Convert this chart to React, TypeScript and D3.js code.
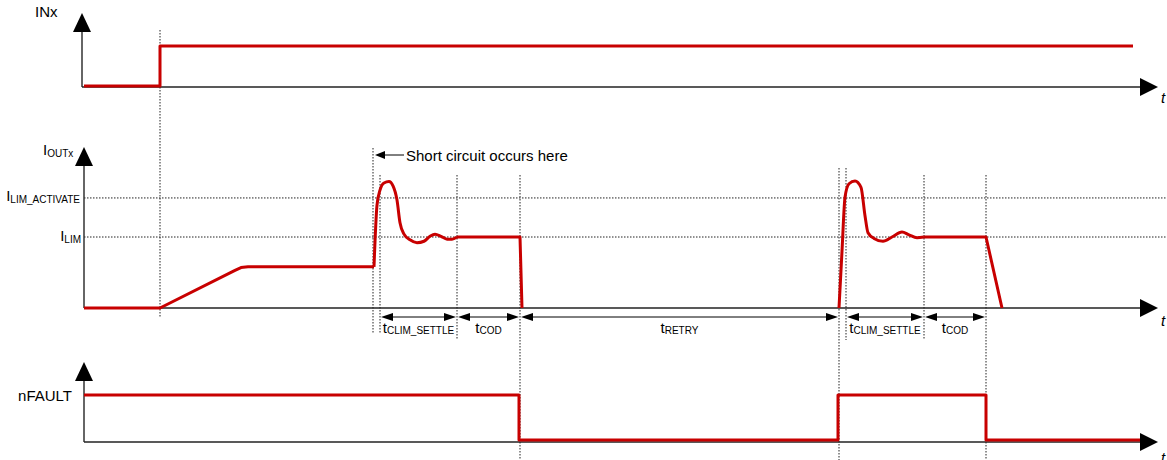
import React from "react";
import * as d3 from "d3";

// ---------- data (time in arbitrary units, levels normalised) ----------
const inxTime = [0, 76, 76, 1049];
const inxLevel = [0, 0, 1, 1];

// output current, I_LIM = 1
const ioutPreTime = [0, 76, 151, 157, 164, 290];
const ioutPreValue = [0, 0, 0.53, 0.57, 0.58, 0.58];
const pulse1Time = [290, 293, 296, 300, 305, 309, 313, 316, 320, 326, 333, 340, 346, 351, 357, 363, 368, 373];
const pulse1Value = [0.58, 1.45, 1.66, 1.76, 1.78, 1.72, 1.52, 1.2, 1.04, 0.96, 0.92, 0.94, 1.01, 1.04, 1.01, 0.97, 0.97, 1.0];
const post1Time = [373, 436, 438];
const post1Value = [1.0, 1.0, 0.0];
const pulse2Time = [755, 758, 761, 765, 771, 777, 781, 784, 790, 799, 808, 818, 825, 833, 840];
const pulse2Value = [0.0, 0.8, 1.56, 1.75, 1.79, 1.7, 1.3, 1.06, 0.98, 0.94, 1.0, 1.07, 1.03, 0.99, 1.0];
const post2Time = [840, 902, 918];
const post2Value = [1.0, 1.0, 0.0];

const ilimLevel = 1.0;
const ilimActivateLevel = 1.55;

const nfaultTime = [0, 435, 435, 754, 754, 902, 902, 1056];
const nfaultLevel = [1, 1, 0, 0, 1, 1, 0, 0];

const markerTimes = [76, 289, 296, 373, 436, 755, 762, 840, 902];
const intervalStarts = [296, 373, 436, 762, 840];
const intervalEnds = [373, 436, 755, 840, 902];
const intervalLabels = ["CLIM_SETTLE", "COD", "RETRY", "CLIM_SETTLE", "COD"];

// ---------- layout ----------
const W = 1167;
const H = 460;
const RED = "#c80000";
const FONT = "Arial, 'Liberation Sans', sans-serif";
const FS = 15;
const SUB = 10;

const x = d3.scaleLinear().domain([0, 1056]).range([84, 1140]);
const yIn = d3.scaleLinear().domain([0, 1]).range([86, 46]);
const yOut = d3.scaleLinear().domain([0, 1]).range([308, 237]);
const yF = d3.scaleLinear().domain([0, 1]).range([440, 395]);

const markerSpans: [number, number][] = [
  [30, 318], [148, 333], [175, 333], [175, 340], [175, 460],
  [168, 460], [168, 340], [175, 340], [175, 460],
];

function linePath(t: number[], v: number[], ys: d3.ScaleLinear<number, number>, curve: d3.CurveFactory = d3.curveLinear) {
  const pts = t.map((tt, i) => [tt, v[i]] as [number, number]);
  return d3.line<[number, number]>().x((d) => x(d[0])).y((d) => ys(d[1])).curve(curve)(pts) || "";
}

function YAxis({ ax, top, bottom }: { ax: number; top: number; bottom: number }) {
  return (
    <g>
      <line x1={ax} x2={ax} y1={top + 18} y2={bottom} stroke="#333" strokeWidth={1.5} />
      <path d={`M${ax},${top} L${ax - 9},${top + 19} L${ax + 9},${top + 19} Z`} fill="#000" />
    </g>
  );
}

function XAxis({ ax, y }: { ax: number; y: number }) {
  const end = x.range()[1];
  return (
    <g>
      <line x1={ax} x2={end + 1} y1={y} y2={y} stroke="#222" strokeWidth={1.5} />
      <path d={`M${end + 18},${y} L${end},${y - 9} L${end},${y + 9} Z`} fill="#000" />
    </g>
  );
}

export default function App() {
  const redStyle = { fill: "none", stroke: RED, strokeWidth: 3, strokeLinejoin: "round" as const, strokeLinecap: "butt" as const };
  const arrowY = 317;
  return (
    <svg width={W} height={H} style={{ position: "absolute", left: 0, top: 0, background: "#fff" }} fontFamily={FONT}>
      {/* dotted level lines */}
      <line x1={84} x2={W} y1={yOut(ilimActivateLevel)} y2={yOut(ilimActivateLevel)} stroke="#222" strokeWidth={1} strokeDasharray="1.5 1.5" />
      <line x1={84} x2={W} y1={yOut(ilimLevel)} y2={yOut(ilimLevel)} stroke="#222" strokeWidth={1} strokeDasharray="1.5 1.5" />

      {/* marker lines */}
      {markerTimes.map((t, i) => (
        <line key={i} x1={x(t)} x2={x(t)} y1={markerSpans[i][0]} y2={markerSpans[i][1]} stroke="#222" strokeWidth={1} strokeDasharray="1.5 1.5" />
      ))}

      {/* axes */}
      <YAxis ax={82} top={13} bottom={87} />
      <XAxis ax={82} y={87} />
      <YAxis ax={84} top={147} bottom={308} />
      <XAxis ax={84} y={308} />
      <YAxis ax={84} top={362} bottom={442} />
      <XAxis ax={84} y={442} />

      {/* axis labels */}
      <text x={35} y={17} fontSize={FS}>INx</text>
      <text x={43} y={155} fontSize={FS}>I<tspan fontSize={SUB} dy={2}>OUTx</tspan></text>
      <text x={80} y={201} fontSize={FS} textAnchor="end">I<tspan fontSize={SUB} dy={2}>LIM_ACTIVATE</tspan></text>
      <text x={81} y={241} fontSize={FS} textAnchor="end">I<tspan fontSize={SUB} dy={2}>LIM</tspan></text>
      <text x={72} y={401} fontSize={FS} textAnchor="end">nFAULT</text>
      <text x={1161} y={103} fontSize={FS} fontStyle="italic">t</text>
      <text x={1161} y={326} fontSize={FS} fontStyle="italic">t</text>
      <text x={1161} y={463} fontSize={FS} fontStyle="italic">t</text>

      {/* signals */}
      <path d={linePath(inxTime, inxLevel, yIn)} {...redStyle} />
      <path d={linePath(ioutPreTime, ioutPreValue, yOut)} {...redStyle} />
      <path d={linePath(pulse1Time, pulse1Value, yOut, d3.curveMonotoneX)} {...redStyle} />
      <path d={linePath(post1Time, post1Value, yOut)} {...redStyle} />
      <path d={linePath(pulse2Time, pulse2Value, yOut, d3.curveMonotoneX)} {...redStyle} />
      <path d={linePath(post2Time, post2Value, yOut)} {...redStyle} />
      <path d={linePath(nfaultTime, nfaultLevel, yF)} {...redStyle} />

      {/* short circuit annotation */}
      <line x1={x(markerTimes[1]) + 10} x2={404} y1={155} y2={155} stroke="#000" strokeWidth={1} />
      <path d={`M${x(markerTimes[1]) + 2},155 L${x(markerTimes[1]) + 12},151 L${x(markerTimes[1]) + 12},159 Z`} fill="#000" />
      <text x={406} y={161} fontSize={FS}>Short circuit occurs here</text>

      {/* interval arrows */}
      {intervalStarts.map((s, i) => {
        const a = x(s) + 1;
        const b = x(intervalEnds[i]) - 1;
        const mid = (a + b) / 2;
        return (
          <g key={i}>
            <line x1={a + 6} x2={b - 6} y1={arrowY} y2={arrowY} stroke="#000" strokeWidth={1} />
            <path d={`M${a},${arrowY} L${a + 12},${arrowY - 4} L${a + 12},${arrowY + 4} Z`} fill="#000" />
            <path d={`M${b},${arrowY} L${b - 12},${arrowY - 4} L${b - 12},${arrowY + 4} Z`} fill="#000" />
            <text x={mid} y={333} fontSize={FS} textAnchor="middle">
              t<tspan fontSize={SUB} dy={1}>{intervalLabels[i]}</tspan>
            </text>
          </g>
        );
      })}
    </svg>
  );
}
